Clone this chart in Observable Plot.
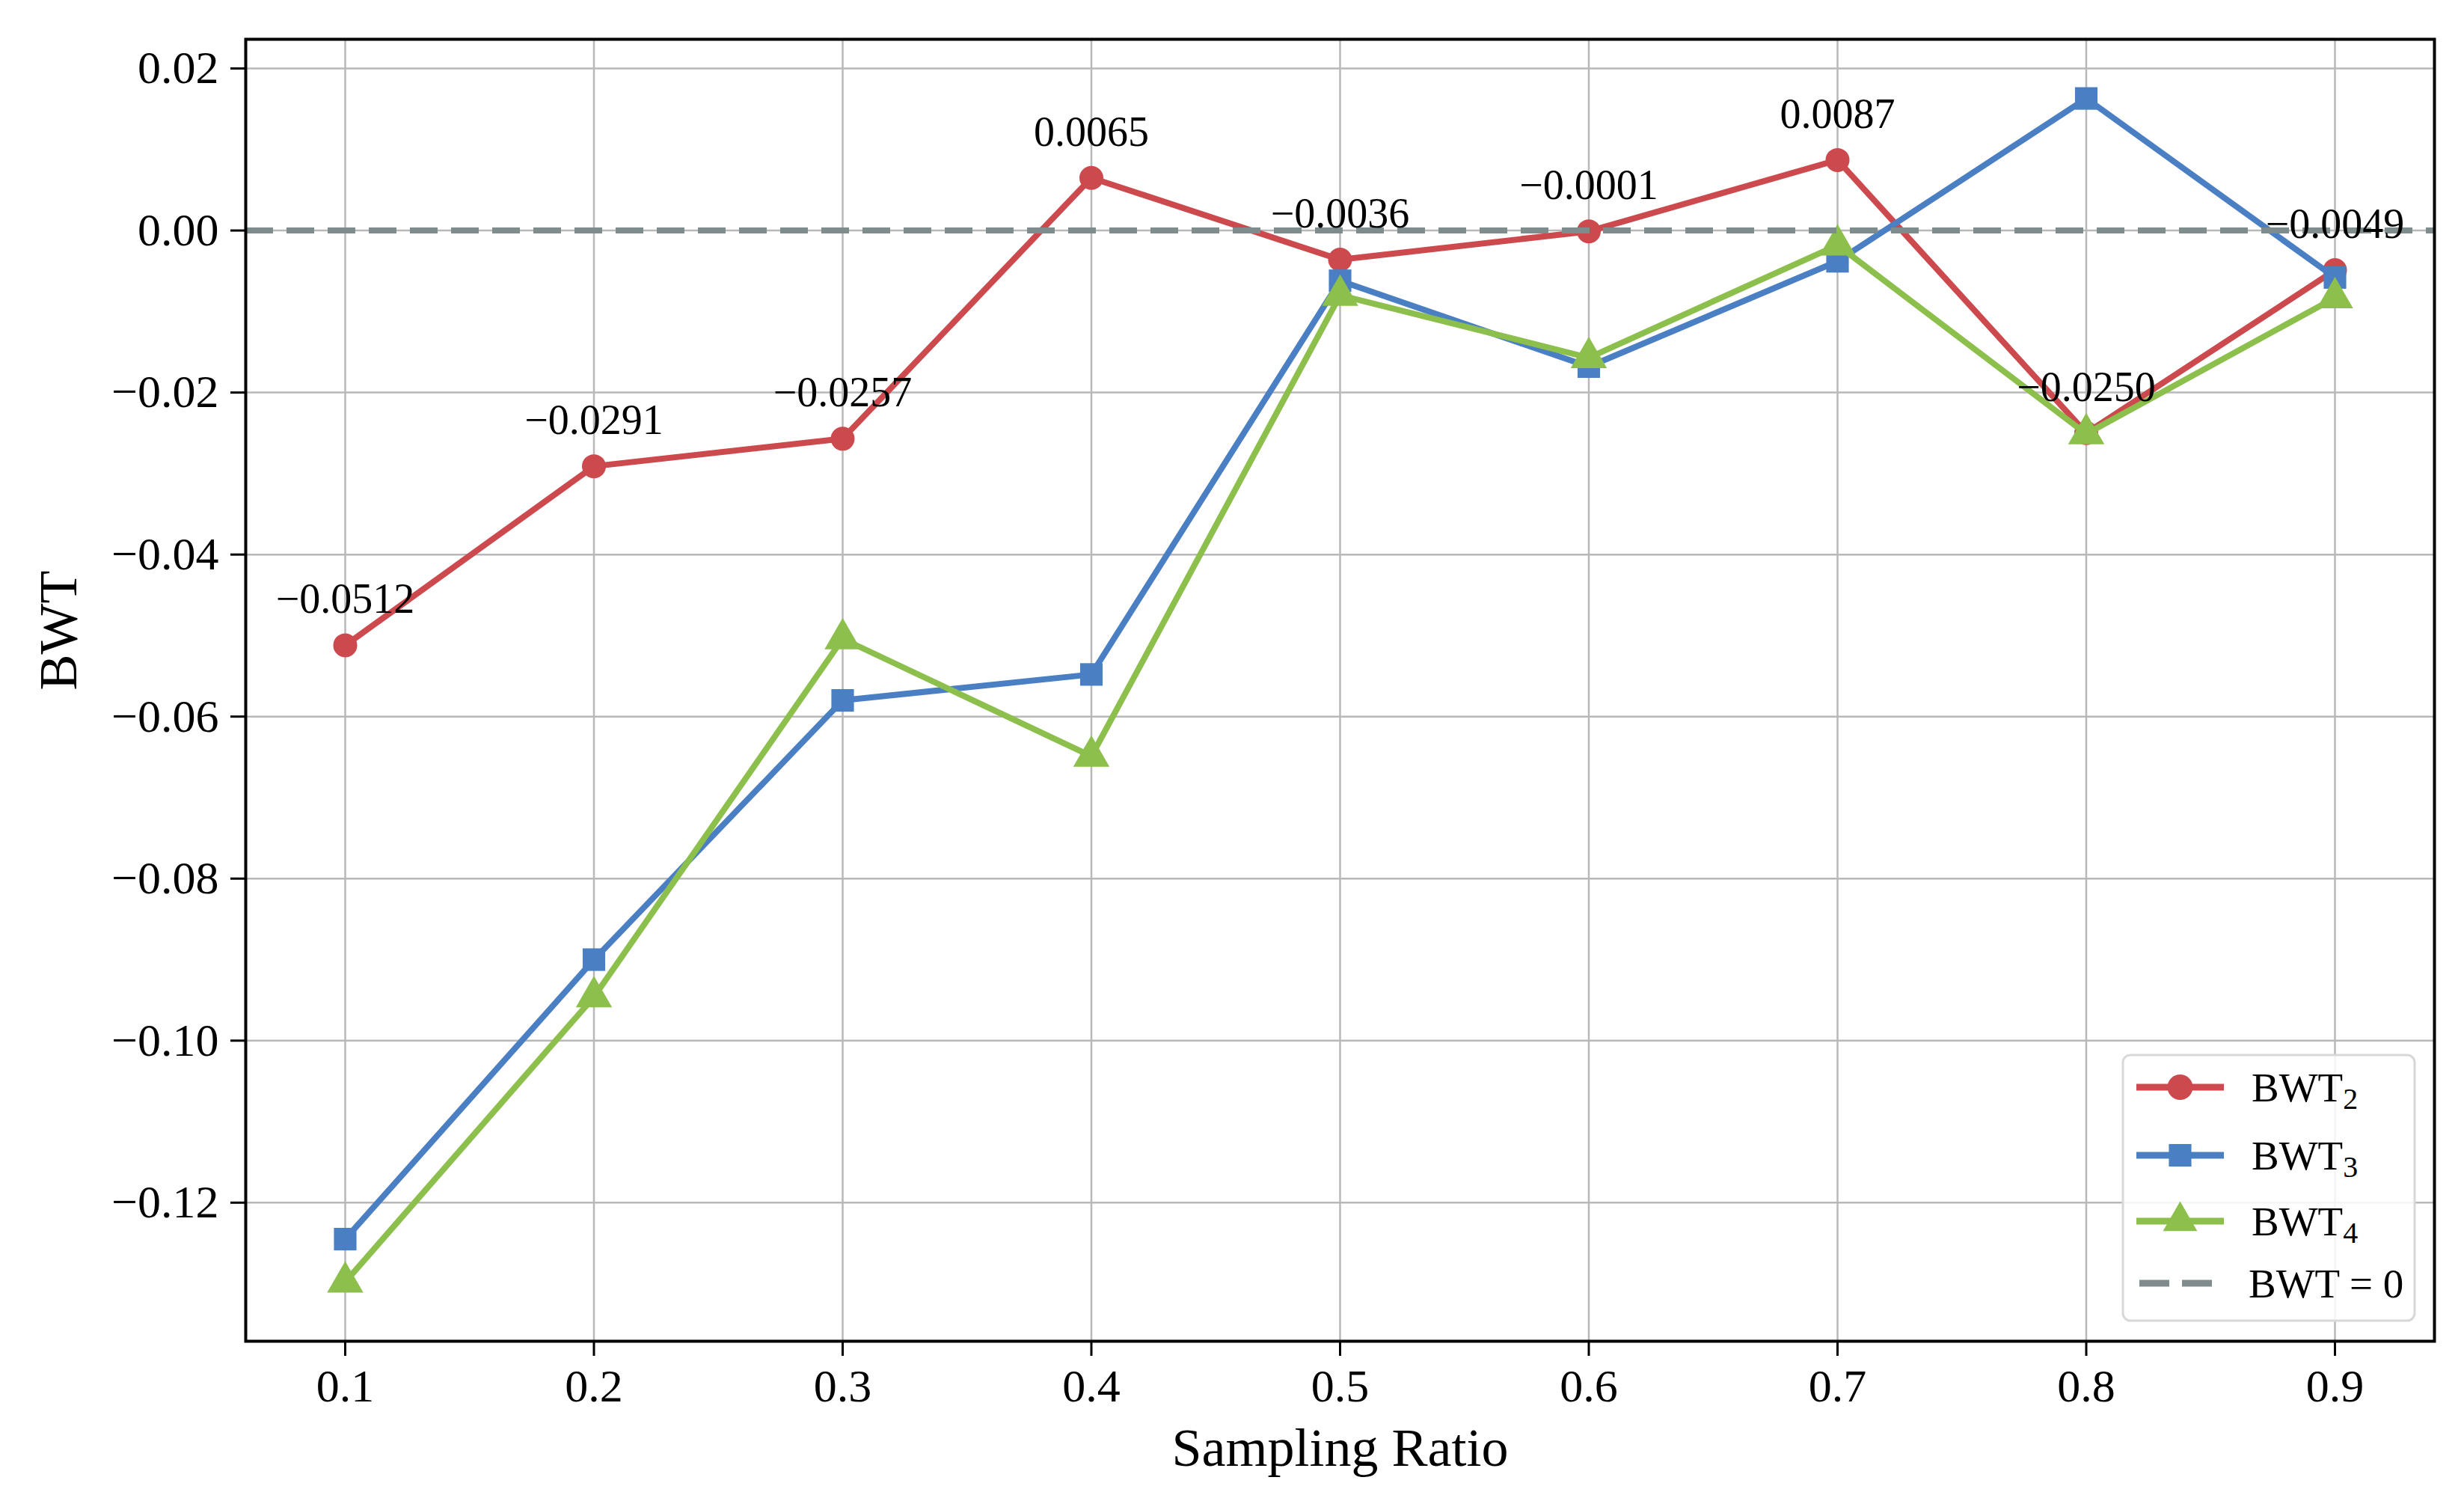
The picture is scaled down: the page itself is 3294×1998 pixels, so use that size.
<!DOCTYPE html>
<html>
<head>
<meta charset="utf-8">
<script src="https://cdn.jsdelivr.net/npm/d3@7"></script>
<script src="https://cdn.jsdelivr.net/npm/@observablehq/plot@0.6"></script>
<style>
  html, body { margin: 0; padding: 0; background: #fff; }
  #chart svg { display: block; overflow: visible; }
</style>
</head>
<body>
<div id="chart"></div>
<script>
const ratios = [0.1, 0.2, 0.3, 0.4, 0.5, 0.6, 0.7, 0.8, 0.9];
const bwt2 = [-0.0512, -0.0291, -0.0257, 0.0065, -0.0036, -0.0001, 0.0087, -0.0250, -0.0049];
const bwt3 = [-0.1245, -0.0900, -0.0580, -0.0548, -0.0062, -0.0168, -0.0038, 0.0163, -0.0058];
const bwt4 = [-0.1298, -0.0946, -0.0504, -0.0649, -0.0080, -0.0157, -0.0018, -0.0251, -0.0083];
const xTicks = [0.1, 0.2, 0.3, 0.4, 0.5, 0.6, 0.7, 0.8, 0.9];
const yTicks = [0.02, 0.00, -0.02, -0.04, -0.06, -0.08, -0.10, -0.12];
const seriesNames = ["BWT2", "BWT3", "BWT4"];
const seriesColors = ["#cc4a4e", "#4a7fc4", "#8cbf4c"];
const zeroColor = "#7f8c8c";

const W = 3294, H = 1998;
const font = "'Liberation Serif', 'Times New Roman', serif";

const rows = (vals, s) => ratios.map((r, i) => ({ratio: r, value: vals[i], series: s}));
const d2 = rows(bwt2, "BWT2"), d3s = rows(bwt3, "BWT3"), d4 = rows(bwt4, "BWT4");

const all = [...bwt2, ...bwt3, ...bwt4, 0];
const ymin = d3.min(all), ymax = d3.max(all);
const ypad = (ymax - ymin) * 0.05;
const xmin = d3.min(ratios), xmax = d3.max(ratios);
const xpad = (xmax - xmin) * 0.05;

const plot = Plot.plot({
  width: W,
  height: H,
  marginLeft: 328,
  marginRight: 40,
  marginTop: 52,
  marginBottom: 206,
  style: {fontFamily: font, fontSize: "62px", background: "#fff", color: "#000"},
  x: {domain: [xmin - xpad, xmax + xpad]},
  y: {domain: [ymin - ypad, ymax + ypad]},
  marks: [
    Plot.gridX(xTicks, {stroke: "#b8b8b8", strokeOpacity: 1, strokeWidth: 2.5}),
    Plot.gridY(yTicks, {stroke: "#b8b8b8", strokeOpacity: 1, strokeWidth: 2.5}),
    Plot.axisX({ticks: xTicks, tickFormat: d3.format(".1f"), tickSize: 20, tickPadding: 16,
      strokeWidth: 3, fontSize: 62, label: null}),
    Plot.axisY({ticks: yTicks, tickFormat: d3.format(".2f"), tickSize: 20, tickPadding: 16,
      strokeWidth: 3, fontSize: 62, label: null}),
    Plot.line(d2, {x: "ratio", y: "value", stroke: seriesColors[0], strokeWidth: 8}),
    Plot.dot(d2, {x: "ratio", y: "value", fill: seriesColors[0], r: 16, symbol: "circle"}),
    Plot.line(d3s, {x: "ratio", y: "value", stroke: seriesColors[1], strokeWidth: 8}),
    Plot.dot(d3s, {x: "ratio", y: "value", fill: seriesColors[1], r: 17, symbol: "square"}),
    Plot.line(d4, {x: "ratio", y: "value", stroke: seriesColors[2], strokeWidth: 8}),
    Plot.dot(d4, {x: "ratio", y: "value", fill: seriesColors[2], r: 18, symbol: "triangle"}),
    Plot.ruleY([0], {stroke: zeroColor, strokeWidth: 8, strokeDasharray: "37,18"}),
    Plot.text(d2, {x: "ratio", y: "value", text: d => d3.format(".4f")(d.value),
      dy: -61, fontSize: 56, fill: "#000"}),
    Plot.frame({stroke: "#000", strokeWidth: 4}),
    Plot.text(["Sampling Ratio"], {frameAnchor: "bottom", dy: 166, fontSize: 72, fill: "#000"}),
    Plot.text(["BWT"], {frameAnchor: "left", dx: -250, rotate: -90, fontSize: 72, fill: "#000"})
  ]
});

document.getElementById("chart").appendChild(plot);

// Legend (inside the plot, lower right)
const svg = d3.select(plot);
const lg = svg.append("g").attr("font-family", font).attr("text-anchor", "start");
const bx = 2838, by = 1410, bw = 390, bh = 355;
lg.append("rect").attr("x", bx).attr("y", by).attr("width", bw).attr("height", bh)
  .attr("rx", 10).attr("fill", "#fff").attr("fill-opacity", 0.85)
  .attr("stroke", "#d8d8d8").attr("stroke-width", 3);
const rowY = [1453, 1544, 1632, 1715];
const lx0 = 2856, lx1 = 2973, tx = 3010;
const sym = [d3.symbolCircle, d3.symbolSquare, d3.symbolTriangle];
const symR = [17, 17, 17];
seriesNames.forEach((name, i) => {
  const y = rowY[i];
  lg.append("line").attr("x1", lx0).attr("x2", lx1).attr("y1", y).attr("y2", y)
    .attr("stroke", seriesColors[i]).attr("stroke-width", 9);
  lg.append("path").attr("d", d3.symbol(sym[i], Math.PI * symR[i] * symR[i])())
    .attr("transform", `translate(${(lx0 + lx1) / 2},${y})`).attr("fill", seriesColors[i]);
  const t = lg.append("text").attr("x", tx).attr("y", y + 19).attr("font-size", 55).attr("fill", "#000");
  t.append("tspan").text(name.slice(0, 3));
  t.append("tspan").attr("font-size", 40).attr("dy", 10).text(name.slice(3));
});
lg.append("line").attr("x1", lx0 + 4).attr("x2", lx1 - 8).attr("y1", rowY[3]).attr("y2", rowY[3])
  .attr("stroke", zeroColor).attr("stroke-width", 9).attr("stroke-dasharray", "40,17");
lg.append("text").attr("x", tx - 4).attr("y", rowY[3] + 19).attr("font-size", 55).attr("fill", "#000")
  .text("BWT = 0");
</script>
</body>
</html>
